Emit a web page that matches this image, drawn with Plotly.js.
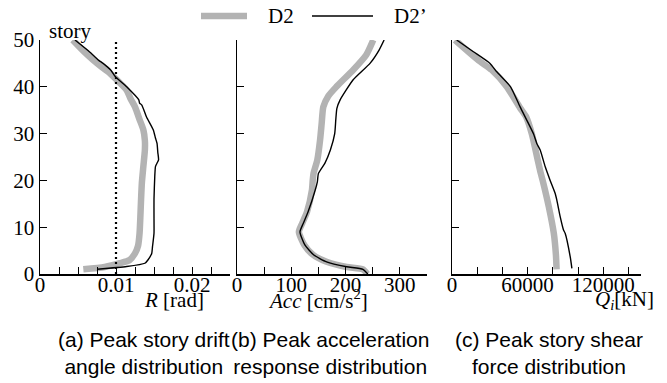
<!DOCTYPE html>
<html>
<head>
<meta charset="utf-8">
<script src="https://cdn.plot.ly/plotly-3.0.1.min.js"></script>
<style>
  html, body { margin: 0; padding: 0; background: #fff; }
  #chart { width: 667px; height: 383px; }
</style>
</head>
<body>
<div id="chart"></div>
<script>
// Series names
const seriesNames = ['D2', 'D2\u2019'];

// (a) Peak story drift angle R [rad] per story
const driftStoryD2 = [1, 1.5, 2.3, 3, 4.4, 6, 8.7, 12, 16, 19.4, 23, 26.5, 28.5, 30.8, 33, 35.7, 37.5, 39.3, 41, 42.9, 44.5, 45.7, 47.5, 50];
const driftD2 = [0.0057, 0.0085, 0.0105, 0.0118, 0.0125, 0.0129, 0.0131, 0.0132, 0.0133, 0.0134, 0.0136, 0.0138, 0.0138, 0.0136, 0.0131, 0.0125, 0.0119, 0.0114, 0.0104, 0.0092, 0.0079, 0.0070, 0.0058, 0.0043];
const driftStoryD2p = [1, 1.6, 2.3, 3, 4.4, 5.8, 8.7, 12.2, 16, 20.8, 23, 24.4, 26, 27.9, 29, 30.8, 33.6, 36.1, 36.5, 37.2, 40, 42.2, 43.6, 45, 45.7, 47.5, 50];
const driftD2p = [0.0075, 0.0114, 0.0138, 0.0142, 0.0147, 0.0148, 0.0150, 0.0150, 0.0150, 0.0151, 0.0152, 0.0156, 0.0155, 0.0154, 0.0152, 0.0149, 0.0140, 0.0134, 0.0131, 0.0130, 0.0114, 0.0099, 0.0093, 0.0083, 0.0077, 0.0065, 0.0046];
const driftLimit = 0.01;

// (b) Peak acceleration response Acc [cm/s2] per story
const accStoryD2 = [0, 1, 1.5, 2.6, 4.1, 6.2, 9, 10.8, 13.3, 17.9, 20, 21.5, 24.4, 28.6, 32.2, 35.7, 38, 40, 43.6, 46.8, 50];
const accD2 = [240, 232, 202, 165, 140, 124, 114, 120, 129, 138, 139.5, 141, 148, 153, 156, 159, 168, 183, 214, 238, 251];
const accStoryD2p = [0, 1, 1.55, 2.6, 4.1, 6.2, 9, 10.8, 13.3, 17.9, 19.7, 21.5, 23.7, 26.5, 30, 33, 35.4, 37.2, 41.5, 45, 47.9, 50];
const accD2p = [241, 232, 202, 165, 141, 125, 116, 122, 131, 144, 148, 150, 162, 172, 180, 182, 184, 190, 214, 245, 262, 271];

// (c) Peak story shear force Qi [kN] per story
const shearStoryD2 = [1, 4, 8.7, 14.4, 19.4, 22, 26.5, 30, 33.6, 35.5, 40, 43.6, 45.4, 47.5, 50];
const shearD2 = [83000, 82500, 80800, 76800, 72500, 70000, 66300, 63300, 58800, 54000, 43500, 31500, 22300, 13000, 2400];
const shearStoryD2p = [1.2, 3.7, 8.7, 9.4, 12.2, 15.8, 17.2, 20, 22.9, 26.5, 27.9, 30, 35.7, 40, 43.2, 45, 47.5, 50];
const shearD2p = [95150, 93800, 89800, 88500, 85900, 83200, 81900, 77900, 74000, 70000, 67300, 64600, 54050, 46500, 35500, 30200, 17000, 3700];

// Tick values and labels (labelled majors, unlabelled minors)
const storyTicks = [0, 10, 20, 30, 40, 50];
const storyLabels = ['0', '10', '20', '30', '40', '50'];
const driftTicks = [0, 0.01, 0.02];
const driftLabels = ['0', '0.01', '0.02'];
const driftMinor = [0.0025, 0.005, 0.0075, 0.0125, 0.015, 0.0175, 0.0225, 0.025];
const accTicks = [0, 100, 200, 300];
const accLabels = ['0', '100', '200', '300'];
const accMinor = [50, 150, 250, 350];
const shearTicks = [0, 60000, 120000];
const shearLabels = ['0', '60000', '120000'];
const shearMinor = [20000, 40000, 80000, 100000, 140000];

// Panel captions
const captions = [
  '(a) Peak story drift<br>angle distribution',
  '(b) Peak acceleration<br>response distribution',
  '(c) Peak story shear<br>force distribution'
];

const W = 667, H = 383;
const serif = 'Liberation Serif, Times New Roman, serif';
const sans = 'Liberation Sans, Arial, sans-serif';
const black = '#000000';
const gray = '#b3b3b3';

const grayLine = { color: gray, width: 6.5 };
const blackLine = { color: black, width: 1.4 };

function px(x) { return x / W; }
function py(y) { return 1 - y / H; }

const traces = [
  { x: driftD2, y: driftStoryD2, xaxis: 'x', yaxis: 'y', mode: 'lines', name: seriesNames[0],
    line: Object.assign({ shape: 'spline', smoothing: 0.6 }, grayLine) },
  { x: driftD2p, y: driftStoryD2p, xaxis: 'x', yaxis: 'y', mode: 'lines', name: seriesNames[1],
    line: Object.assign({ shape: 'spline', smoothing: 0.5 }, blackLine) },
  { x: [driftLimit, driftLimit], y: [0, 50], xaxis: 'x', yaxis: 'y', mode: 'lines',
    line: { color: black, width: 2.2, dash: '2px,3px' }, hoverinfo: 'skip' },
  { x: accD2, y: accStoryD2, xaxis: 'x2', yaxis: 'y2', mode: 'lines', name: seriesNames[0],
    line: Object.assign({ shape: 'spline', smoothing: 0.6 }, grayLine) },
  { x: accD2p, y: accStoryD2p, xaxis: 'x2', yaxis: 'y2', mode: 'lines', name: seriesNames[1],
    line: Object.assign({ shape: 'spline', smoothing: 0.5 }, blackLine) },
  { x: shearD2, y: shearStoryD2, xaxis: 'x3', yaxis: 'y3', mode: 'lines', name: seriesNames[0],
    line: Object.assign({ shape: 'spline', smoothing: 0.6 }, grayLine) },
  { x: shearD2p, y: shearStoryD2p, xaxis: 'x3', yaxis: 'y3', mode: 'lines', name: seriesNames[1],
    line: Object.assign({ shape: 'spline', smoothing: 0.5 }, blackLine) }
];

const tickFont = { family: serif, size: 21, color: black };
const yDomain = [py(274), py(40)];

function axisBase(extra) {
  return Object.assign({
    showline: true, linecolor: black, linewidth: 1.5,
    ticks: 'inside', ticklen: 7, tickwidth: 1, tickcolor: black,
    showgrid: false, zeroline: false, fixedrange: true,
    tickfont: tickFont, tickmode: 'array'
  }, extra);
}

function minorTicks(vals) {
  return { tickmode: 'array', tickvals: vals, ticks: 'inside', ticklen: 7, tickwidth: 1, tickcolor: black, showgrid: false };
}

// Legend drawn at the top centre: a swatch line and a label per series
const legendY = py(16);
const legendShapes = [
  { type: 'line', xref: 'paper', yref: 'paper', x0: px(201), x1: px(247), y0: legendY, y1: legendY,
    line: { color: gray, width: 6.5 } },
  { type: 'line', xref: 'paper', yref: 'paper', x0: px(312), x1: px(373), y0: legendY, y1: legendY,
    line: { color: black, width: 1.4 } }
];
const legendLabels = [
  { text: seriesNames[0], xref: 'paper', yref: 'paper', x: px(266), y: legendY,
    xanchor: 'left', yanchor: 'middle', showarrow: false, font: { family: serif, size: 21, color: black } },
  { text: seriesNames[1], xref: 'paper', yref: 'paper', x: px(392), y: legendY,
    xanchor: 'left', yanchor: 'middle', showarrow: false, font: { family: serif, size: 21, color: black } }
];

const titleFont = { family: serif, size: 21, color: black };
const captionFont = { family: sans, size: 21, color: black };

const layout = {
  width: W, height: H,
  margin: { l: 0, r: 0, t: 0, b: 0 },
  paper_bgcolor: '#fff', plot_bgcolor: '#fff',
  showlegend: false,
  xaxis: axisBase({ domain: [px(40), px(230)], range: [0, 0.025], anchor: 'y',
    tickvals: driftTicks, ticktext: driftLabels, minor: minorTicks(driftMinor), ticklabelstandoff: -9 }),
  yaxis: axisBase({ domain: yDomain, range: [0, 50], anchor: 'x',
    tickvals: storyTicks, ticktext: storyLabels }),
  xaxis2: axisBase({ domain: [px(237), px(427)], range: [0, 350], anchor: 'y2',
    tickvals: accTicks, ticktext: accLabels, minor: minorTicks(accMinor), ticklabelstandoff: -9 }),
  yaxis2: axisBase({ domain: yDomain, range: [0, 50], anchor: 'x2',
    tickvals: storyTicks, showticklabels: false }),
  xaxis3: axisBase({ domain: [px(452), px(641)], range: [0, 150000], anchor: 'y3',
    tickvals: shearTicks, ticktext: shearLabels, minor: minorTicks(shearMinor), ticklabelstandoff: -9 }),
  yaxis3: axisBase({ domain: yDomain, range: [0, 50], anchor: 'x3',
    tickvals: storyTicks, showticklabels: false }),
  shapes: legendShapes,
  annotations: legendLabels.concat([
    { text: 'story', xref: 'paper', yref: 'paper', x: px(47), y: py(31),
      xanchor: 'left', yanchor: 'middle', showarrow: false, font: titleFont },
    { text: '<i>R</i> [rad]', xref: 'paper', yref: 'paper', x: px(206), y: py(300),
      xanchor: 'right', yanchor: 'middle', showarrow: false, font: titleFont },
    { text: '<i>Acc</i> [cm/s<sup>2</sup>]', xref: 'paper', yref: 'paper', x: px(370), y: py(299),
      xanchor: 'right', yanchor: 'middle', showarrow: false, font: titleFont },
    { text: '<i>Q<sub>i</sub></i>[kN]', xref: 'paper', yref: 'paper', x: px(656), y: py(300),
      xanchor: 'right', yanchor: 'middle', showarrow: false, font: titleFont },
    { text: captions[0], xref: 'paper', yref: 'paper', x: px(144), y: py(353),
      xanchor: 'center', yanchor: 'middle', showarrow: false, align: 'center', font: captionFont },
    { text: captions[1], xref: 'paper', yref: 'paper', x: px(330), y: py(353),
      xanchor: 'center', yanchor: 'middle', showarrow: false, align: 'center', font: captionFont },
    { text: captions[2], xref: 'paper', yref: 'paper', x: px(549), y: py(353),
      xanchor: 'center', yanchor: 'middle', showarrow: false, align: 'center', font: captionFont }
  ])
};

Plotly.newPlot('chart', traces, layout, { displayModeBar: false, staticPlot: true });
</script>
</body>
</html>
